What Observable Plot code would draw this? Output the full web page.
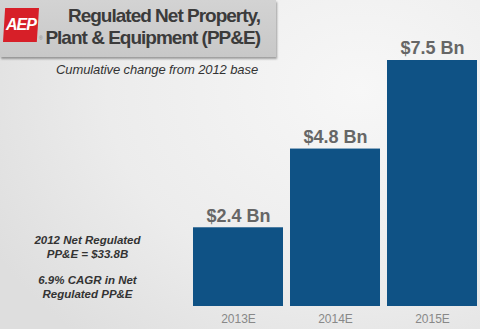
<!DOCTYPE html>
<html>
<head>
<meta charset="utf-8">
<script src="https://cdn.jsdelivr.net/npm/d3@7"></script>
<script src="https://cdn.jsdelivr.net/npm/@observablehq/plot@0.6"></script>
<style>
  html, body { margin: 0; padding: 0; }
  body {
    width: 480px; height: 329px; overflow: hidden; position: relative;
    background: radial-gradient(ellipse 420px 330px at 360px 90px, #f7f7f7 0%, #ececec 60%, #dedede 100%);
    font-family: "Liberation Sans", Arial, sans-serif;
  }
  #chart { position: absolute; left: 0; top: 0; }
  #titlebox {
    position: absolute; left: 0; top: 0; width: 276px; height: 57px;
    background: linear-gradient(#d3d3d3, #c8c8c8);
    box-shadow: 1px 2px 2px rgba(0,0,0,0.35);
  }
  #logo {
    position: absolute; left: 3px; top: 8px; width: 36px; height: 34px;
    background: #d71f28;
    clip-path: polygon(6% 0, 100% 0, 94% 100%, 0 100%);
    color: #fff; font-weight: bold; font-style: italic; font-size: 16px;
    line-height: 34px; text-align: center; letter-spacing: -1px;
  }
  #reg { position: absolute; left: 39px; top: 35px; font-size: 5px; line-height: 6px; color: #888; }
  #title {
    position: absolute; right: 16px; top: 5px; text-align: right;
    font-weight: bold; font-size: 19px; line-height: 22px; color: #3b3b3b;
    letter-spacing: -1px; white-space: nowrap;
  }
  #subtitle {
    position: absolute; left: 56px; top: 62px; font-style: italic; font-size: 13px; color: #333;
    letter-spacing: -0.1px; white-space: nowrap;
  }
  #note {
    position: absolute; left: 0; width: 175px; top: 233px; text-align: center;
    font-style: italic; font-weight: bold; font-size: 11.5px; line-height: 14px; color: #333;
  }
</style>
</head>
<body>
<div id="chart"></div>
<div id="titlebox">
  <div id="logo">AEP</div>
  <div id="reg">®</div>
  <div id="title">Regulated Net Property,<br>Plant &amp; Equipment (PP&amp;E)</div>
</div>
<div id="subtitle">Cumulative change from 2012 base</div>
<div id="note">2012 Net Regulated<br>PP&amp;E = $33.8B<br><div style="height:12px"></div>6.9% CAGR in Net<br>Regulated PP&amp;E</div>
<script>
const years = ["2013E", "2014E", "2015E"];
const values = [2.4, 4.8, 7.5];
const labels = ["$2.4 Bn", "$4.8 Bn", "$7.5 Bn"];

const data = years.map((y, i) => ({year: y, value: values[i], label: labels[i]}));

const chart = Plot.plot({
  width: 480,
  height: 329,
  marginTop: 0,
  marginBottom: 23,
  marginLeft: 0,
  marginRight: 0,
  style: {background: "transparent", fontFamily: "Liberation Sans, Arial, sans-serif"},
  x: {domain: years, range: [186, 484], padding: 0.072, label: null},
  y: {domain: [0, 7.5], range: [306, 60], axis: null},
  marks: [
    Plot.barY(data, {x: "year", y: "value", fill: "#0f5285"}),
    Plot.text(data, {x: "year", y: "value", text: "label", dy: -12,
      fontSize: 18, fontWeight: "bold", fill: "#666", style: "letter-spacing:-0.5px"}),
    Plot.axisX({anchor: "bottom", tickSize: 0, tickPadding: 8, fontSize: 12, color: "#888", label: null})
  ]
});
document.getElementById("chart").appendChild(chart);
</script>
</body>
</html>
